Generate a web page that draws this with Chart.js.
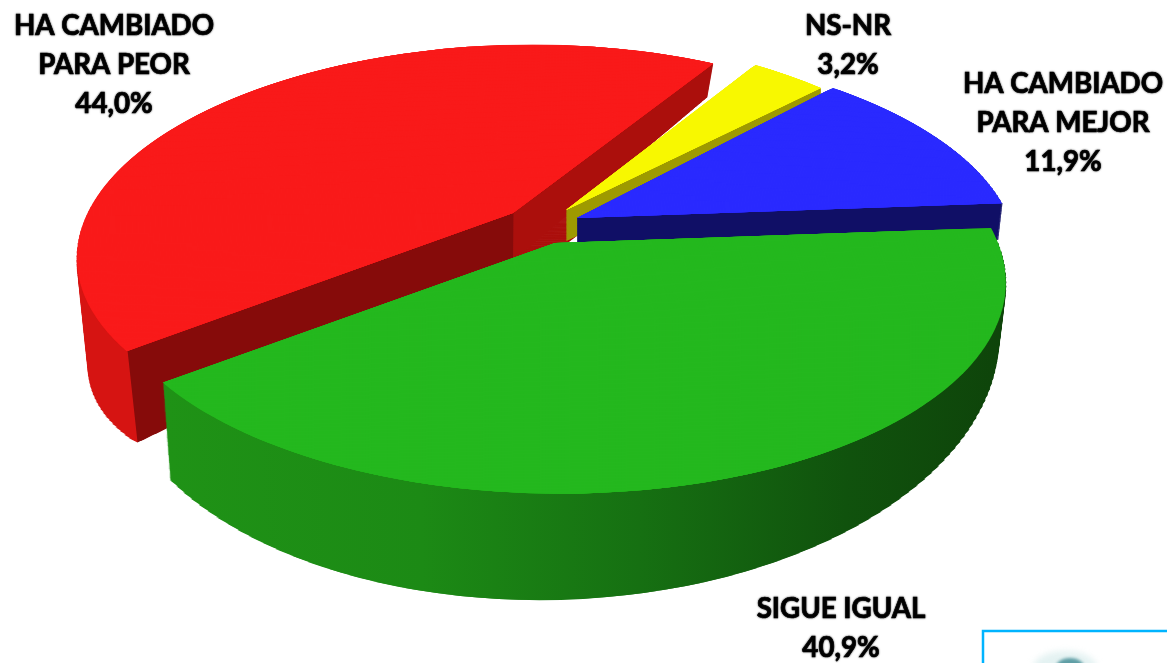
<!DOCTYPE html>
<html>
<head>
<meta charset="utf-8">
<script src="https://cdn.jsdelivr.net/npm/chart.js@4"></script>
<style>
  html, body { margin: 0; padding: 0; background: #fff; }
  canvas { display: block; }
</style>
</head>
<body>
<canvas id="pie" width="1167" height="663"></canvas>
<script>
const categories = ['HA CAMBIADO\nPARA PEOR', 'NS-NR', 'HA CAMBIADO\nPARA MEJOR', 'SIGUE IGUAL'];
const values = [44.0, 3.2, 11.9, 40.9];
const topColors = ['#f91a1a', '#f8f800', '#2a2aff', '#24b81e'];

// how each slice sits in the 3D view: tip, disc axes, perspective g
const views = [
  { o: [513, 213], m: [426.7, -2.8, -16, 197], g: -0.17 },
  { o: [566, 210], m: [430, 26, 0, 208], g: -0.17 },
  { o: [577, 218], m: [433.6, 3.2, 1.6, 199.6], g: -0.17 },
  { o: [555, 243], m: [444.5, 3.9, -1.7, 208], g: -0.17 }
];
// wall depth: dy = d0 + d1*y + d2*x, and the walls lean in by k around xv
const walls = [
  { d0: 146.9, d1: -0.1028, d2: -0.15, k: 0.027, xv: 497 },
  { d0: 31, d1: 0, d2: 0, k: 0, xv: 570 },
  { d0: 8.8, d1: 0, d2: 0.028, k: 0.01, xv: 578 },
  { d0: 30.8, d1: 0.185, d2: -0.0284, k: 0.017, xv: 590 }
];
// wall colours by screen x
const wallStops = [
  [[0, '#d61412'], [127, '#d61412'], [128, '#860b0a'], [513, '#860b0a'], [514, '#ab0f0c'], [1167, '#ab0f0c']],
  [[0, '#9e9a00'], [1167, '#9e9a00']],
  [[0, '#100f66'], [1167, '#100f66']],
  [[0, '#1f9216'], [163, '#1f9216'], [420, '#1c8a15'], [640, '#167012'], [850, '#10520d'], [1003, '#0e440a'], [1167, '#0e440a']]
];
// bit of red core showing under the tip of the slice, next to the yellow wall
const hub = { at: [566, 244], scale: 0.17, color: '#ab0f0c' };
const labelSpots = [[114, 35], [848, 35], [1063, 93], [841, 618]];
const labelStep = 39;

function sinRange(arc) {
  let lo = 0, hi = 0;
  for (let n = 0; n <= 32; n++) {
    const s = Math.sin(arc.startAngle + (arc.endAngle - arc.startAngle) * n / 32);
    lo = Math.min(lo, s);
    hi = Math.max(hi, s);
  }
  return [lo, hi];
}

// canvas has no perspective transform, so the disc is cut in thin bands.
// each band runs a little past the next one so no seam shows through
function drawBands(ctx, arc, i, fill, dv) {
  const v = views[i], R = arc.outerRadius;
  const [a, b, c, d] = v.m;
  const [lo, hi] = sinRange(arc);
  const opts = Object.assign({}, arc.options);
  const saved = arc.options;
  arc.options = opts;
  for (let vc = lo; vc < hi; vc += dv) {
    const w = 1 + v.g * vc;
    const cv = c / (w * w), dy = d / (w * w);
    const e = c * vc / w - cv * vc, f = d * vc / w - dy * vc;
    ctx.save();
    ctx.transform(a / w, b / w, cv, dy, e, f);
    ctx.beginPath();
    ctx.rect(-1.3, vc - dv / 2, 2.6, dv + 0.02);
    ctx.clip();
    ctx.scale(1 / R, 1 / R);
    ctx.translate(-arc.x, -arc.y);
    opts.backgroundColor = typeof fill === 'function' ? fill(a / w, cv, e) : fill;
    arc.draw(ctx);
    ctx.restore();
  }
  arc.options = saved;
}

function wallFill(ctx, arc, i) {
  const v = views[i], R = arc.outerRadius;
  return (ax, cy, e) => {
    const len = Math.hypot(ax, cy);
    const nx = ax / len, ny = cy / len;
    const local = sx => (sx - v.o[0] - e) * R / len;
    const g = ctx.createLinearGradient(
      arc.x + nx * local(0), arc.y + ny * local(0),
      arc.x + nx * local(1167), arc.y + ny * local(1167));
    wallStops[i].forEach(s => g.addColorStop(s[0] / 1167, s[1]));
    return g;
  };
}

function drawSlice(ctx, arc, i) {
  const v = views[i], w = walls[i];
  const fill = wallFill(ctx, arc, i);
  if (i === 0) {
    ctx.save();
    ctx.translate(hub.at[0], hub.at[1]);
    ctx.scale(hub.scale, hub.scale);
    drawBands(ctx, arc, i, hub.color, 0.02);
    ctx.restore();
  }
  const layers = 100;
  for (let n = layers; n > 0; n--) {
    const t = n / layers;
    ctx.save();
    ctx.transform(1 - t * w.k, t * w.d2, 0, 1 + t * w.d1, t * w.k * w.xv, t * w.d0);
    ctx.translate(v.o[0], v.o[1]);
    drawBands(ctx, arc, i, fill, 0.02);
    ctx.restore();
  }
  ctx.save();
  ctx.translate(v.o[0], v.o[1]);
  drawBands(ctx, arc, i, topColors[i], 0.005);
  ctx.restore();
}

const tiltPlugin = {
  id: 'tilt',
  beforeDatasetsDraw(chart) {
    chart.getDatasetMeta(0).data.forEach((arc, i) => drawSlice(chart.ctx, arc, i));
    return false;
  },
  afterDraw(chart) {
    const ctx = chart.ctx;
    ctx.save();
    ctx.font = 'bold 27.7px Lato';
    ctx.textAlign = 'center';
    ctx.fillStyle = '#000';
    ctx.strokeStyle = '#000';
    ctx.lineWidth = 0.7;
    ctx.shadowColor = 'rgba(0,0,0,0.6)';
    ctx.shadowBlur = 2;
    categories.forEach((c, i) => {
      const lines = c.split('\n');
      lines.push(values[i].toFixed(1).replace('.', ',') + '%');
      lines.forEach((l, n) => {
        ctx.fillText(l, labelSpots[i][0], labelSpots[i][1] + n * labelStep);
        ctx.strokeText(l, labelSpots[i][0], labelSpots[i][1] + n * labelStep);
      });
    });
    ctx.restore();

    // corner box with the faded logo
    ctx.save();
    ctx.strokeStyle = '#00b4ff';
    ctx.lineWidth = 2.5;
    ctx.strokeRect(983, 631, 200, 60);
    ctx.fillStyle = '#e4f2f2';
    ctx.filter = 'blur(3px)';
    ctx.beginPath();
    ctx.ellipse(1065, 668, 32, 17, 0, 0, Math.PI * 2);
    ctx.fill();
    ctx.fillStyle = '#5f9ea5';
    ctx.filter = 'blur(1.5px)';
    ctx.beginPath();
    ctx.ellipse(1070, 669, 15, 11, 0, 0, Math.PI * 2);
    ctx.fill();
    ctx.restore();
  }
};

new Chart(document.getElementById('pie'), {
  type: 'pie',
  data: {
    labels: categories,
    datasets: [{ data: values, backgroundColor: topColors, borderWidth: 0 }]
  },
  options: {
    responsive: false,
    animation: false,
    rotation: 232,
    plugins: { legend: { display: false }, tooltip: { enabled: false } }
  },
  plugins: [tiltPlugin]
});
</script>
</body>
</html>
